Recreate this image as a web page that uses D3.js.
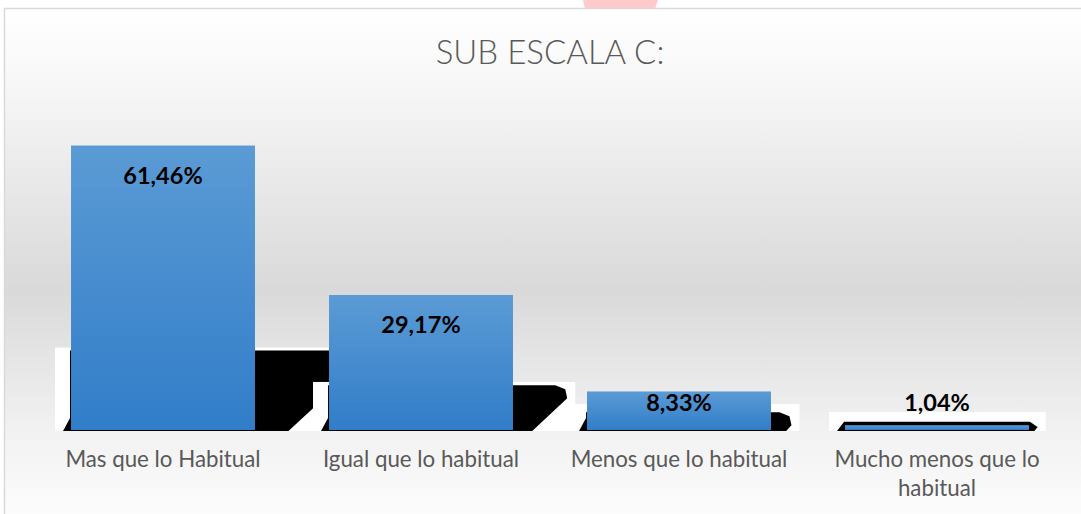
<!DOCTYPE html>
<html><head><meta charset="utf-8">
<script src="https://cdn.jsdelivr.net/npm/d3@7"></script>
<style>html,body{margin:0;padding:0;background:#fff;overflow:hidden}</style>
</head><body>
<svg id="chart" width="1081" height="514"></svg>
<script>
const title = "SUB ESCALA C:";
const categories = ["Mas que lo Habitual", "Igual que lo habitual", "Menos que lo habitual", "Mucho menos que lo habitual"];
const values = [61.46, 29.17, 8.33, 1.04];
const valueLabels = ["61,46%", "29,17%", "8,33%", "1,04%"];

const W = 1081, H = 514;
const svg = d3.select("#chart");
const defs = svg.append("defs");

const bg = defs.append("linearGradient").attr("id", "bg").attr("gradientUnits", "userSpaceOnUse")
  .attr("x1", 0).attr("y1", 8).attr("x2", 0).attr("y2", 520);
bg.append("stop").attr("offset", 0).attr("stop-color", "#ffffff");
bg.append("stop").attr("offset", 0.15).attr("stop-color", "#f7f7f7");
bg.append("stop").attr("offset", 0.55).attr("stop-color", "#d9d9d9");
bg.append("stop").attr("offset", 0.82).attr("stop-color", "#f1f1f1");
bg.append("stop").attr("offset", 1).attr("stop-color", "#fdfdfd");

const bg2 = defs.append("linearGradient").attr("id", "barg").attr("x1", 0).attr("y1", 0).attr("x2", 0).attr("y2", 1);
bg2.append("stop").attr("offset", 0).attr("stop-color", "#5b9bd5");
bg2.append("stop").attr("offset", 1).attr("stop-color", "#317dc8");

// page top strip + pink mark
svg.append("rect").attr("x", 0).attr("y", 0).attr("width", W).attr("height", H).attr("fill", "#fff");
svg.append("path").attr("d", "M583,0 L658,0 L655,9 L585,9 Z").attr("fill", "#ffcaca");

// chart area
svg.append("rect").attr("x", 4.5).attr("y", 8.5).attr("width", W + 10).attr("height", H + 10)
  .attr("fill", "url(#bg)").attr("stroke", "#d9d9d9").attr("stroke-width", 1.5);

svg.append("text").attr("x", 550).attr("y", 64).attr("text-anchor", "middle")
  .attr("font-family", "Lato, 'Open Sans', sans-serif").attr("font-weight", 300)
  .attr("font-size", 33).attr("fill", "#595959").text(title);

const x = d3.scaleBand().domain(categories).range([34, 1066]).paddingInner(0.287).paddingOuter(0.1435);
const y = d3.scaleLinear().domain([0, 70]).range([430, 106]);
const B = y(0);

const data = categories.map((c, i) => ({c, v: values[i], lab: valueLabels[i]}));

// shadow artefacts
data.forEach(d => {
  const L = x(d.c), R = L + x.bandwidth(), h = B - y(d.v);
  const Wt = B - (17 + 0.23 * h);
  const E = 15 + 0.35 * h;
  svg.append("rect").attr("x", L - 16).attr("y", Wt).attr("width", R + E - (L - 16)).attr("height", B + 1 - Wt).attr("fill", "#fff");
  const Bt = Wt + Math.max(3, 10 - 0.05 * h);
  const xr1 = R + Math.max(E - 20, 1), xr2 = R + Math.max(E - 8, 5);
  const yb = Math.min(Bt + 13, B - 3);
  const xb = Math.max(xr2 - 1.1 * (B - yb), R + 5);
  const pts = [[L - 8, B + 1], [L - 1, Math.max(Bt, B - 12)], [L - 1, Bt], [xr1, Bt], [xr2 - 2, Bt + 4], [xr2, yb], [xb, B + 1]];
  svg.append("path").attr("d", d3.line()(pts) + "Z").attr("fill", "#000");
});

svg.selectAll("rect.bar").data(data).join("rect").attr("class", "bar")
  .attr("x", d => x(d.c)).attr("y", d => y(d.v)).attr("width", x.bandwidth()).attr("height", d => B - y(d.v))
  .attr("fill", "url(#barg)");

svg.selectAll("text.val").data(data).join("text").attr("class", "val")
  .attr("x", d => x(d.c) + x.bandwidth() / 2)
  .attr("y", d => { const h = B - y(d.v); const t = y(d.v); return h > 60 ? t + 38 : (h > 25 ? t + 20 : t - 14); })
  .attr("text-anchor", "middle").attr("font-family", "Lato, 'Open Sans', sans-serif").attr("font-weight", 700)
  .attr("font-size", 23.5).attr("fill", "#000").text(d => d.lab);

// category labels with wrapping
const catFont = 22.3;
data.forEach(d => {
  const t = svg.append("text").attr("text-anchor", "middle").attr("font-family", "Lato, 'Open Sans', sans-serif")
    .attr("font-size", catFont).attr("fill", "#595959");
  const cx = x(d.c) + x.bandwidth() / 2;
  const words = d.c.split(" ");
  let lines = [], cur = [];
  const probe = svg.append("text").attr("font-family", "Lato, 'Open Sans', sans-serif").attr("font-size", catFont);
  words.forEach(w => {
    const test = cur.concat([w]).join(" ");
    probe.text(test);
    if (probe.node().getComputedTextLength() > 240 && cur.length) { lines.push(cur.join(" ")); cur = [w]; }
    else cur.push(w);
  });
  lines.push(cur.join(" "));
  probe.remove();
  lines.forEach((ln, k) => t.append("tspan").attr("x", cx).attr("y", 467 + k * 29).text(ln));
});
</script>
</body></html>
